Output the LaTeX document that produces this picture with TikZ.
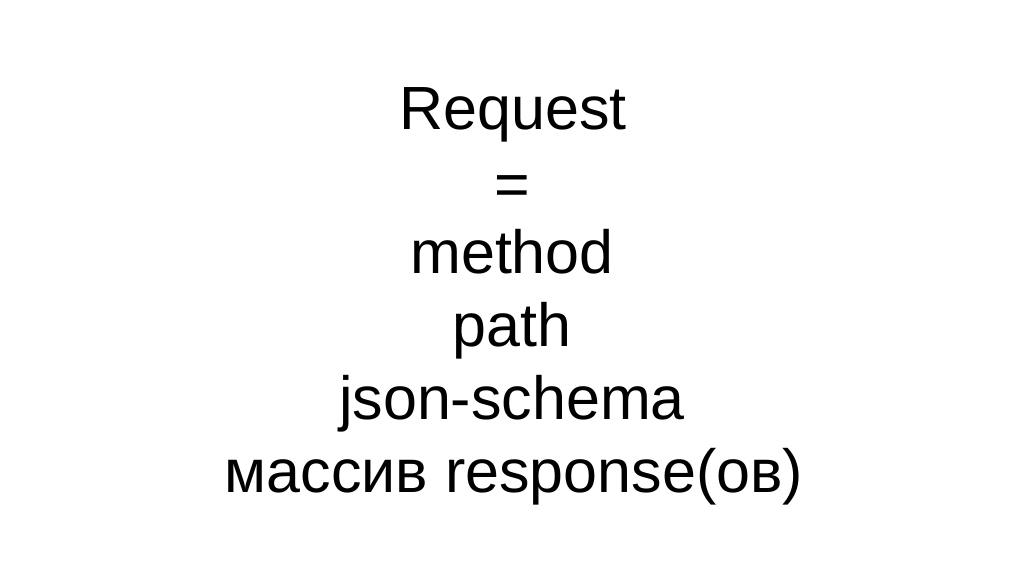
\documentclass[tikz,border=0pt]{standalone}
\usepackage{fontspec}
\setmainfont{Liberation Sans}
\begin{document}
\begin{tikzpicture}[x=1pt,y=-1pt,
  line/.style={anchor=base,inner sep=0pt,font=\fontsize{61}{72}\selectfont}]
\useasboundingbox[fill=white] (0,0) rectangle (1024,576);
\node[line] (request) at (513,129) {Request};
\node[line] (eq) at (512,205) {=};
\node[line] (method) at (512,273) {method};
\node[line] (path) at (512,346) {path};
\node[line] (schema) at (512,419) {json-schema};
\node[line] (resp) at (514,492) {массив response(ов)};
\end{tikzpicture}
\end{document}
